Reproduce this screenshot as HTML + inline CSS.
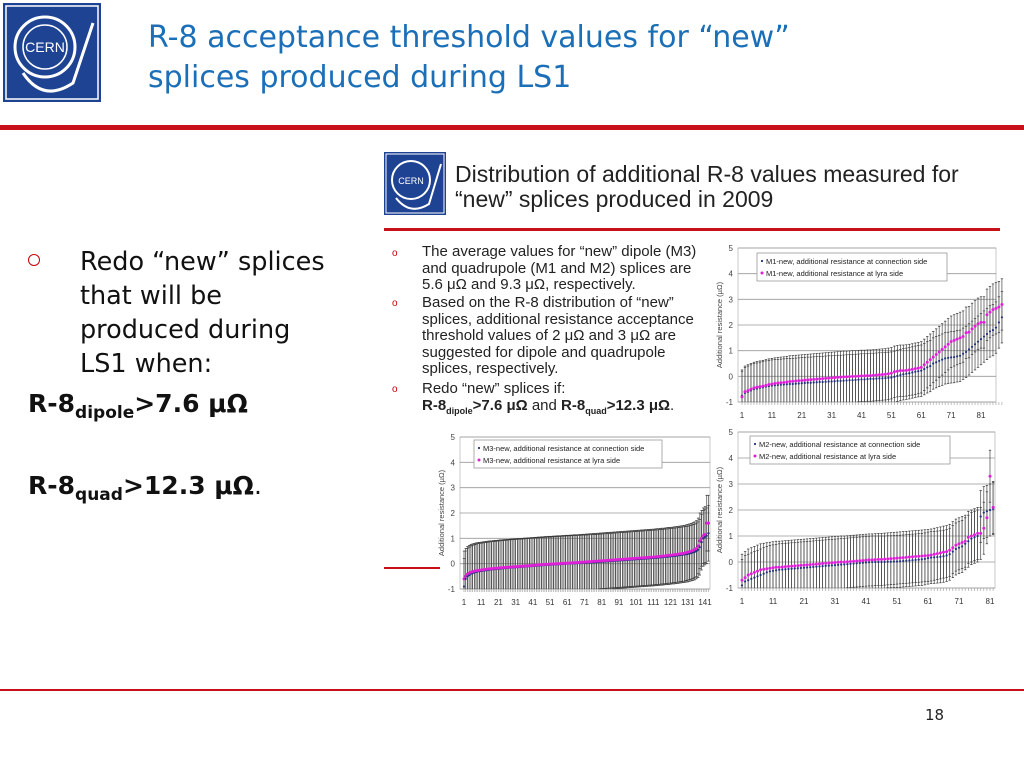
<!DOCTYPE html>
<html><head><meta charset="utf-8">
<style>
body{margin:0;width:1024px;height:768px;overflow:hidden;background:#fff;position:relative;font-family:"DejaVu Sans","Liberation Sans",sans-serif}
.a{position:absolute;white-space:nowrap}
.title{left:148px;color:#1a6fb8;font-size:30px;line-height:40px}
.ib{font-family:"Liberation Sans",sans-serif;font-size:15px;color:#222;line-height:16.6px;left:422px}
.rb{color:#c00;font-family:"Liberation Sans",sans-serif;font-size:10px}
svg text{font-family:"Liberation Sans",sans-serif}
</style></head><body>
<svg class="a" style="left:3px;top:3px" width="98" height="99">
<rect width="98" height="99" fill="#1f4393"/><rect x="3" y="3" width="92" height="93" fill="none" stroke="#fff" stroke-width="1.5"/>
<circle cx="42" cy="44" r="30" fill="none" stroke="#fff" stroke-width="3"/><circle cx="42" cy="44" r="22" fill="none" stroke="#fff" stroke-width="1.5"/>
<path d="M20 70 Q40 100 70 80 L90 20" fill="none" stroke="#fff" stroke-width="3"/>
<text x="42" y="49" fill="#fff" font-size="14" text-anchor="middle" font-family="Liberation Serif">CERN</text></svg>
<div class="a title" style="top:18px">R-8 acceptance threshold values for “new”<br>splices produced during LS1</div>
<div class="a" style="left:0;top:125px;width:1024px;height:5px;background:#c8101a"></div>
<div class="a" style="left:28px;top:254px;width:12px;height:12px;border:1.5px solid #c00;border-radius:50%;box-sizing:border-box"></div>
<div class="a" style="left:80px;top:245px;font-size:25.5px;line-height:34px;color:#111">Redo “new” splices<br>that will be<br>produced during<br>LS1 when:</div>
<div class="a" style="left:28px;top:389px;font-size:25px;font-weight:bold;color:#111">R-8<sub style="font-size:17px">dipole</sub>&gt;7.6 μΩ</div>
<div class="a" style="left:28px;top:471px;font-size:25px;font-weight:bold;color:#111">R-8<sub style="font-size:17px">quad</sub>&gt;12.3 μΩ<span style="font-weight:normal">.</span></div>

<svg class="a" style="left:384px;top:152px" width="62" height="63">
<rect width="62" height="63" fill="#1f4393"/><rect x="2" y="2" width="58" height="59" fill="none" stroke="#fff"/>
<circle cx="27" cy="28" r="19" fill="none" stroke="#fff" stroke-width="2"/><path d="M12 46 Q26 64 45 52 L57 12" fill="none" stroke="#fff" stroke-width="2"/>
<text x="27" y="32" fill="#fff" font-size="9" text-anchor="middle" font-family="Liberation Serif">CERN</text></svg>
<div class="a" style="left:455px;top:162px;font-family:'Liberation Sans',sans-serif;font-size:23px;line-height:25px;color:#222">Distribution of additional R-8 values measured for<br>“new” splices produced in 2009</div>
<div class="a" style="left:384px;top:228px;width:616px;height:3px;background:#c8101a"></div>
<div class="a" style="left:384px;top:567px;width:56px;height:2px;background:#c8101a"></div>
<div class="a rb" style="left:392px;top:248px">o</div>
<div class="a rb" style="left:392px;top:298px">o</div>
<div class="a rb" style="left:392px;top:384px">o</div>
<div class="a ib" style="top:244px">The average values for “new” dipole (M3)<br>and quadrupole (M1 and M2) splices are<br>5.6 μΩ and 9.3 μΩ, respectively.</div>
<div class="a ib" style="top:295px">Based on the R-8 distribution of “new”<br>splices, additional resistance acceptance<br>threshold values of 2 μΩ and 3 μΩ are<br>suggested for dipole and quadrupole<br>splices, respectively.</div>
<div class="a ib" style="top:381px">Redo “new” splices if:<br><b>R-8<sub style="font-size:9px">dipole</sub>&gt;7.6 μΩ</b> and <b>R-8<sub style="font-size:9px">quad</sub>&gt;12.3 μΩ</b>.</div>

<svg id="c1" class="a" style="left:0;top:0" width="1024" height="768"></svg>

<div class="a" style="left:0;top:689px;width:1024px;height:2px;background:#c8101a"></div>
<div class="a" style="left:925px;top:706px;font-size:15px;color:#222">18</div>

<script>
const yTicks=[-1,0,1,2,3,4,5];
const m1Conn=[-0.75,-0.65,-0.6,-0.55,-0.5,-0.48,-0.45,-0.43,-0.4,-0.38,-0.36,-0.35,-0.34,-0.33,-0.32,-0.31,-0.3,-0.3,-0.29,-0.28,-0.27,-0.26,-0.25,-0.25,-0.24,-0.23,-0.22,-0.22,-0.21,-0.2,-0.2,-0.19,-0.18,-0.18,-0.17,-0.16,-0.15,-0.15,-0.14,-0.13,-0.12,-0.12,-0.11,-0.1,-0.1,-0.09,-0.08,-0.08,-0.07,-0.06,-0.05,-0.02,0.02,0.05,0.08,0.1,0.12,0.15,0.18,0.2,0.22,0.28,0.35,0.4,0.5,0.55,0.6,0.65,0.7,0.72,0.74,0.75,0.78,0.8,0.88,0.95,1.05,1.15,1.25,1.35,1.45,1.55,1.65,1.75,1.8,1.9,2.1,2.3];
const m1Lyra=[-0.8,-0.6,-0.55,-0.5,-0.45,-0.42,-0.4,-0.38,-0.35,-0.32,-0.3,-0.28,-0.26,-0.25,-0.24,-0.22,-0.2,-0.19,-0.18,-0.17,-0.16,-0.15,-0.14,-0.13,-0.12,-0.11,-0.1,-0.09,-0.08,-0.07,-0.06,-0.05,-0.04,-0.03,-0.02,-0.02,-0.01,0,0,0.01,0.02,0.02,0.03,0.03,0.04,0.05,0.06,0.07,0.08,0.1,0.12,0.18,0.2,0.22,0.22,0.23,0.25,0.27,0.3,0.32,0.35,0.45,0.55,0.65,0.75,0.85,0.95,1.05,1.15,1.25,1.35,1.4,1.45,1.5,1.55,1.7,1.72,1.85,1.95,2.05,2.1,2.1,2.4,2.5,2.6,2.65,2.7,2.8];
const m3Conn=[-0.9,-0.6,-0.5,-0.45,-0.4,-0.38,-0.35,-0.33,-0.31,-0.3,-0.29,-0.28,-0.27,-0.26,-0.25,-0.24,-0.23,-0.22,-0.22,-0.21,-0.2,-0.2,-0.19,-0.18,-0.18,-0.17,-0.16,-0.16,-0.15,-0.15,-0.14,-0.14,-0.13,-0.13,-0.12,-0.12,-0.11,-0.11,-0.1,-0.1,-0.09,-0.09,-0.08,-0.08,-0.07,-0.07,-0.06,-0.06,-0.05,-0.05,-0.05,-0.04,-0.04,-0.03,-0.03,-0.03,-0.02,-0.02,-0.01,-0.01,0,0,0,0.01,0.01,0.01,0.02,0.02,0.02,0.03,0.03,0.03,0.04,0.04,0.05,0.05,0.05,0.06,0.06,0.07,0.07,0.08,0.08,0.09,0.09,0.1,0.1,0.11,0.11,0.12,0.12,0.13,0.13,0.14,0.14,0.15,0.15,0.16,0.16,0.17,0.17,0.18,0.18,0.19,0.19,0.2,0.2,0.21,0.21,0.22,0.22,0.23,0.23,0.24,0.25,0.25,0.26,0.27,0.27,0.28,0.29,0.3,0.3,0.31,0.32,0.33,0.34,0.35,0.36,0.37,0.38,0.4,0.42,0.44,0.46,0.5,0.55,0.65,0.85,1.0,1.05,1.1,1.2];
const m3Lyra=[-0.6,-0.5,-0.42,-0.38,-0.34,-0.32,-0.3,-0.28,-0.27,-0.26,-0.25,-0.24,-0.23,-0.22,-0.21,-0.2,-0.2,-0.19,-0.18,-0.18,-0.17,-0.16,-0.16,-0.15,-0.15,-0.14,-0.14,-0.13,-0.13,-0.12,-0.12,-0.11,-0.11,-0.1,-0.1,-0.09,-0.09,-0.08,-0.08,-0.07,-0.07,-0.06,-0.06,-0.05,-0.05,-0.04,-0.04,-0.03,-0.03,-0.02,-0.02,-0.02,-0.01,-0.01,0,0,0,0.01,0.01,0.02,0.02,0.02,0.03,0.03,0.04,0.04,0.04,0.05,0.05,0.06,0.06,0.07,0.07,0.08,0.08,0.09,0.09,0.1,0.1,0.11,0.11,0.12,0.12,0.13,0.13,0.14,0.14,0.15,0.15,0.16,0.16,0.17,0.17,0.18,0.18,0.19,0.19,0.2,0.2,0.21,0.21,0.22,0.22,0.23,0.23,0.24,0.24,0.25,0.25,0.26,0.26,0.27,0.28,0.28,0.29,0.3,0.3,0.31,0.32,0.33,0.33,0.34,0.35,0.36,0.37,0.38,0.39,0.4,0.41,0.43,0.45,0.47,0.49,0.52,0.55,0.6,0.7,0.9,1.0,1.1,1.15,1.6,1.6];
const m2Conn=[-0.9,-0.75,-0.7,-0.65,-0.6,-0.55,-0.5,-0.45,-0.4,-0.36,-0.34,-0.32,-0.3,-0.29,-0.28,-0.27,-0.26,-0.25,-0.24,-0.23,-0.22,-0.21,-0.2,-0.19,-0.18,-0.17,-0.16,-0.15,-0.14,-0.13,-0.12,-0.11,-0.1,-0.09,-0.08,-0.07,-0.06,-0.05,-0.04,-0.03,-0.02,-0.01,0,0,0,0,0,0.01,0.01,0.02,0.02,0.03,0.04,0.05,0.06,0.07,0.08,0.09,0.1,0.12,0.15,0.17,0.18,0.19,0.2,0.22,0.25,0.3,0.4,0.5,0.55,0.6,0.7,0.8,0.9,0.95,1.0,1.75,1.9,1.95,2.0,2.05];
const m2Lyra=[-0.7,-0.6,-0.5,-0.45,-0.4,-0.35,-0.3,-0.28,-0.26,-0.24,-0.22,-0.2,-0.2,-0.19,-0.18,-0.17,-0.16,-0.15,-0.14,-0.13,-0.12,-0.11,-0.1,-0.09,-0.08,-0.07,-0.06,-0.05,-0.04,-0.03,-0.02,-0.01,0,0,0.01,0.02,0.03,0.04,0.05,0.06,0.07,0.08,0.08,0.09,0.1,0.1,0.11,0.12,0.13,0.14,0.15,0.16,0.17,0.18,0.19,0.2,0.21,0.22,0.23,0.24,0.25,0.27,0.3,0.32,0.35,0.38,0.4,0.45,0.55,0.65,0.7,0.75,0.8,0.95,1.0,1.05,1.1,1.1,1.3,1.7,3.3,2.1];
const errM1=1.0, errM3=1.1, errM2=1.0;
const NS="http://www.w3.org/2000/svg";
const svg=document.getElementById('c1');
function mk(tag,attrs,parent){const e=document.createElementNS(NS,tag);for(const k in attrs)e.setAttribute(k,attrs[k]);(parent||svg).appendChild(e);return e;}
function draw(cfg){
  const g=mk('g',{});
  
  
  const n=cfg.conn.length;
  const xs=i=>cfg.x1+(i)*(cfg.x81-cfg.x1)/80;
  const ys=v=>cfg.yBot+(v+1)*(cfg.yTop-cfg.yBot)/6;
  mk('rect',{x:cfg.L,y:cfg.yTop,width:cfg.R-cfg.L,height:cfg.yBot-cfg.yTop,fill:'#fff',stroke:'#bbb','stroke-width':0.8},g);
  yTicks.forEach(t=>{
    mk('line',{x1:cfg.L,x2:cfg.R,y1:ys(t),y2:ys(t),stroke:'#999','stroke-width':0.8},g);
    const tx=mk('text',{x:cfg.L-5,y:ys(t)+3,'font-size':8,fill:'#444','text-anchor':'end'},g);tx.textContent=t;
  });
  for(let i=0;i<n;i++){
    const x=xs(i);
    mk('line',{x1:x,x2:x,y1:ys(-1),y2:ys(-1)+3,stroke:'#999','stroke-width':0.6},g);
    [[cfg.conn[i],'#22327a',1.1],[cfg.lyra[i],'#e020d8',1.4]].forEach(([v,c,r])=>{
      const lo=Math.max(-1,v-cfg.err),hi=Math.min(5,v+cfg.err);
      const eb=mk('line',{x1:x,x2:x,y1:ys(lo),y2:ys(hi),stroke:'#444','stroke-width':0.7},g);
      
      
      mk('line',{x1:x-1.2,x2:x+1.2,y1:ys(hi),y2:ys(hi),stroke:'#333','stroke-width':0.7},g);
      if(lo>-1) mk('line',{x1:x-1.2,x2:x+1.2,y1:ys(lo),y2:ys(lo),stroke:'#333','stroke-width':0.7},g);
    });
  }
  for(let i=0;i<n;i++){
    const x=xs(i);
    const p1=mk('circle',{cx:x,cy:ys(cfg.conn[i]),r:1.1,fill:'#22327a'},g);
    
    
    const p2=mk('circle',{cx:x,cy:ys(cfg.lyra[i]),r:1.5,fill:'#e020d8'},g);
    
    
  }
  for(let i=0;i<n;i+=10){
    const t=mk('text',{x:xs(i),y:cfg.yBot+16,'font-size':8,fill:'#333','text-anchor':'middle'},g);t.textContent=i+1;
  }
  const yt=mk('text',{x:0,y:0,'font-size':7.5,fill:'#444','text-anchor':'middle',transform:`translate(${cfg.L-16},${(cfg.yTop+cfg.yBot)/2}) rotate(-90)`},g);
  yt.textContent='Additional resistance (µΩ)';
  
  
  const lg=mk('g',{},g);
  
  
  mk('rect',{x:cfg.lx,y:cfg.ly,width:cfg.lw,height:28,fill:'#fff',stroke:'#999','stroke-width':0.8},lg);
  mk('circle',{cx:cfg.lx+5,cy:cfg.ly+8,r:1.1,fill:'#22327a'},lg);
  mk('circle',{cx:cfg.lx+5,cy:cfg.ly+20,r:1.5,fill:'#e020d8'},lg);
  const a=mk('text',{x:cfg.lx+9,y:cfg.ly+11,'font-size':7.5,fill:'#222'},lg);a.textContent=cfg.lab+'-new, additional resistance at connection side';
  const b=mk('text',{x:cfg.lx+9,y:cfg.ly+23,'font-size':7.5,fill:'#222'},lg);b.textContent=cfg.lab+'-new, additional resistance at lyra side';
}
draw({name:'chart-m1',conn:m1Conn,lyra:m1Lyra,err:errM1,x1:742,x81:981,L:738,R:996,yTop:248,yBot:402,lx:757,ly:253,lw:190,lab:'M1'});
draw({name:'chart-m3',conn:m3Conn,lyra:m3Lyra,err:errM3,x1:464,x81:464+80*241/140,L:460,R:710,yTop:437,yBot:589,lx:474,ly:440,lw:188,lab:'M3'});
draw({name:'chart-m2',conn:m2Conn,lyra:m2Lyra,err:errM2,x1:742,x81:990,L:738,R:995,yTop:432,yBot:588,lx:750,ly:436,lw:200,lab:'M2'});
</script>
</body></html>
